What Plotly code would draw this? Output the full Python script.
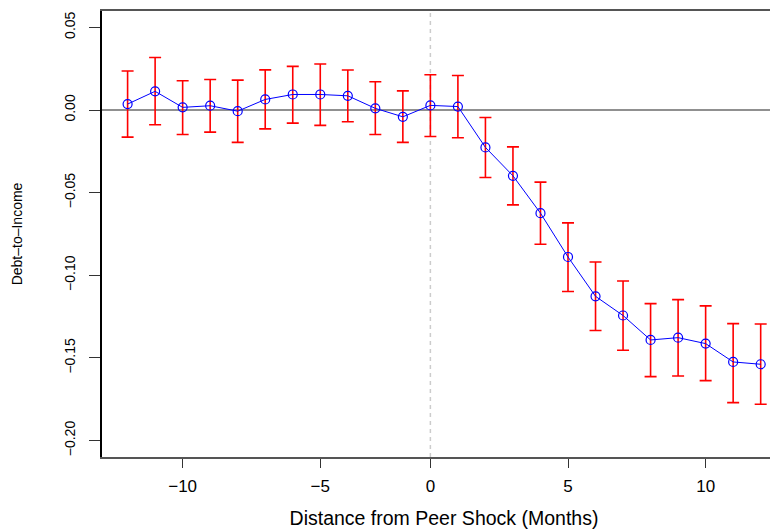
import plotly.graph_objects as go

# event months (month -1 is the omitted reference period)
months = [-12, -11, -10, -9, -8, -7, -6, -5, -4, -3, -2,
          0, 1, 2, 3, 4, 5, 6, 7, 8, 9, 10, 11, 12]

coef = [0.0036, 0.0113, 0.0016, 0.0026, -0.0007, 0.0064, 0.0094, 0.0094,
        0.0086, 0.0010, -0.0041, 0.0028, 0.0021, -0.0226, -0.0398, -0.0624,
        -0.0889, -0.1127, -0.1243, -0.1391, -0.1377, -0.1413, -0.1524, -0.1538]

ci_upper = [0.0236, 0.0318, 0.0177, 0.0185, 0.0181, 0.0243, 0.0264, 0.0278,
            0.0242, 0.0171, 0.0116, 0.0213, 0.0209, -0.0045, -0.0223, -0.0436,
            -0.0683, -0.0919, -0.1034, -0.1171, -0.1147, -0.1185, -0.1292, -0.1294]

ci_lower = [-0.0164, -0.0089, -0.0148, -0.0134, -0.0196, -0.0114, -0.0079, -0.0093,
            -0.0071, -0.0148, -0.0196, -0.0160, -0.0168, -0.0408, -0.0574, -0.0812,
            -0.1098, -0.1334, -0.1453, -0.1613, -0.1609, -0.1637, -0.1770, -0.1780]

x_ticks = [-10, -5, 0, 5, 10]
y_ticks = [0.05, 0.00, -0.05, -0.10, -0.15, -0.20]

cats = [str(m) for m in months]
err_plus = [u - c for u, c in zip(ci_upper, coef)]
err_minus = [c - l for c, l in zip(coef, ci_lower)]
shock_idx = cats.index("0")

fig = go.Figure()

fig.add_shape(type="line", xref="x", yref="paper", x0=shock_idx, x1=shock_idx, y0=0, y1=1,
              line=dict(color="#cccccc", width=1.5, dash="4px,4px"), layer="below")
fig.add_shape(type="line", xref="paper", yref="y", x0=0, x1=1, y0=0, y1=0,
              line=dict(color="#222222", width=1.2), layer="below")

# error bars drawn on their own so the blue line sits on top
fig.add_trace(go.Scatter(
    x=cats, y=coef, mode="markers",
    marker=dict(size=1, color="rgba(0,0,0,0)"),
    error_y=dict(type="data", symmetric=False, array=err_plus, arrayminus=err_minus,
                 color="#ff0000", thickness=1.6, width=6),
    hoverinfo="skip", showlegend=False,
))
fig.add_trace(go.Scatter(
    x=cats, y=coef, mode="lines+markers",
    line=dict(color="#0000ff", width=1),
    marker=dict(symbol="circle-open", size=9, color="#0000ff", line=dict(width=1.2)),
    showlegend=False,
))

font = "Liberation Sans, Arial, Helvetica, sans-serif"

# page body adds an 8px offset, margins compensate for it
fig.update_layout(
    width=778, height=529,
    margin=dict(l=94, r=0, t=3, b=80),
    plot_bgcolor="white", paper_bgcolor="white",
    font=dict(family=font, size=14, color="black"),
)

fig.update_xaxes(
    type="category", range=[-0.93, 23.92], automargin=False,
    tickvals=[str(t) for t in x_ticks],
    ticktext=[str(t).replace("-", "\u2212") for t in x_ticks],
    tickfont=dict(size=17),
    ticks="outside", ticklen=9, tickcolor="#333", tickwidth=1,
    showgrid=False, zeroline=False,
    showline=True, linecolor="#555", linewidth=1.5, mirror=True,
    ticklabelstandoff=4,
    title=dict(text="Distance from Peer Shock (Months)", standoff=16,
               font=dict(size=19.5)),
)
fig.update_yaxes(
    range=[-0.2099, 0.0599], automargin=False,
    tickvals=y_ticks, tickformat=".2f", tickangle=-90,
    tickfont=dict(size=14),
    ticks="outside", ticklen=11, tickcolor="#333", tickwidth=1,
    showgrid=False, zeroline=False,
    showline=True, linecolor="black", linewidth=1.5, mirror=False,
    ticklabelstandoff=9,
    title=dict(text="Debt\u2013to\u2013Income", standoff=36, font=dict(size=14)),
)

fig.write_html("out.html")
